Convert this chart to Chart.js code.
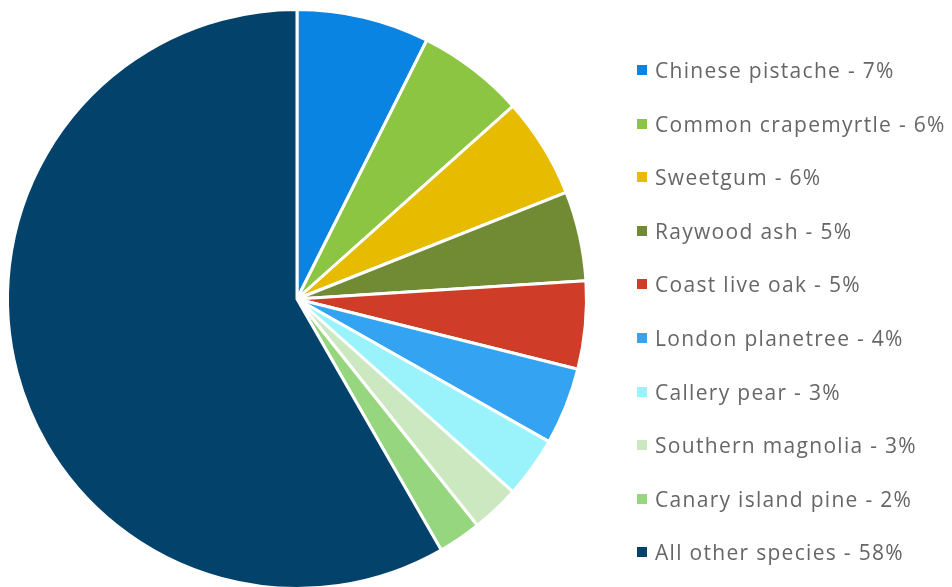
<!DOCTYPE html>
<html>
<head>
<meta charset="utf-8">
<script src="https://cdn.jsdelivr.net/npm/chart.js@4/dist/chart.umd.min.js"></script>
<style>
  html, body { margin: 0; padding: 0; background: #fff; }
  #wrap { position: relative; width: 952px; height: 587px; overflow: hidden; }
  #c { position: absolute; left: 0; top: 0; }
  #legend { position: absolute; left: 637px; top: 0; margin: 0; padding: 0; list-style: none;
    font-family: "Open Sans", sans-serif; font-size: 21px; letter-spacing: 1.3px; color: #666; }
  #legend li { position: absolute; left: 0; white-space: nowrap; display: flex; align-items: center; }
  #legend li span.box { display: inline-block; width: 10px; height: 10px; margin-right: 8px; }
</style>
</head>
<body>
<div id="wrap">
  <canvas id="c" width="952" height="600"></canvas>
  <ul id="legend"></ul>
</div>
<script>
const categories = ["Chinese pistache", "Common crapemyrtle", "Sweetgum", "Raywood ash", "Coast live oak",
  "London planetree", "Callery pear", "Southern magnolia", "Canary island pine", "All other species"];
const shares = [7.4, 6.0, 5.6, 5.0, 4.9, 4.3, 3.4, 2.7, 2.4, 58.3];
const legendPercents = [7, 6, 6, 5, 5, 4, 3, 3, 2, 58];
const colors = ["#0984e3", "#8bc541", "#e6bb00", "#718b35", "#cf3c27", "#34a4f2", "#9af3fb", "#cce8c1", "#96d67e", "#03426b"];

new Chart(document.getElementById('c'), {
  type: 'pie',
  data: {
    labels: categories,
    datasets: [{ data: shares, backgroundColor: colors, borderColor: '#ffffff', borderWidth: 3 }]
  },
  options: {
    responsive: false,
    animation: false,
    layout: { padding: { left: 6, right: 364, top: 8, bottom: 10 } },
    plugins: { legend: { display: false }, tooltip: { enabled: false } }
  }
});

const ul = document.getElementById('legend');
const firstY = 70, stepY = 53.6;
categories.forEach((name, i) => {
  const li = document.createElement('li');
  li.style.top = (firstY + i * stepY - 14) + 'px';
  li.style.height = '28px';
  const box = document.createElement('span');
  box.className = 'box';
  box.style.background = colors[i];
  li.appendChild(box);
  li.appendChild(document.createTextNode(name + ' - ' + legendPercents[i] + '%'));
  ul.appendChild(li);
});
</script>
</body>
</html>
